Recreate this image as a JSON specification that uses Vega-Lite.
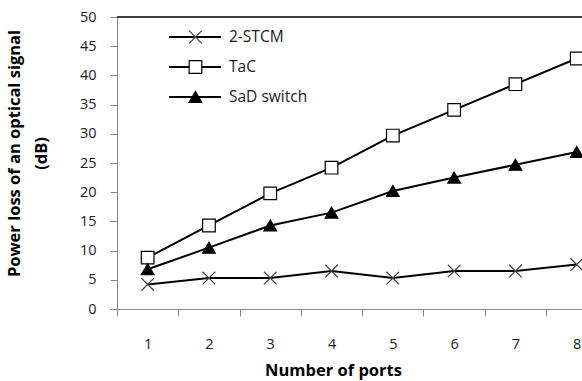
{
  "$schema": "https://vega.github.io/schema/vega-lite/v6.json",
  "width": 465,
  "height": 292,
  "autosize": {"type": "none"},
  "padding": {"left": 117, "top": 17, "right": 0, "bottom": 72},
  "background": "white",
  "config": {
    "view": {"stroke": null},
    "font": "Open Sans",
    "axis": {"labelFont": "Open Sans", "titleFont": "Open Sans", "labelColor": "#1a1a1a", "titleColor": "#000000", "grid": false, "domainColor": "#868686", "tickColor": "#868686", "labelFontSize": 14.5, "titleFontWeight": "bold"},
    "legend": {"labelFont": "Open Sans", "labelFontSize": 15.5, "labelColor": "#1a1a1a", "padding": 0}
  },
  "data": {"values": [
    {"series": "2-STCM", "ports": 1, "loss": 4.2},
    {"series": "2-STCM", "ports": 2, "loss": 5.3},
    {"series": "2-STCM", "ports": 3, "loss": 5.3},
    {"series": "2-STCM", "ports": 4, "loss": 6.5},
    {"series": "2-STCM", "ports": 5, "loss": 5.3},
    {"series": "2-STCM", "ports": 6, "loss": 6.5},
    {"series": "2-STCM", "ports": 7, "loss": 6.5},
    {"series": "2-STCM", "ports": 8, "loss": 7.6},
    {"series": "TaC", "ports": 1, "loss": 8.8},
    {"series": "TaC", "ports": 2, "loss": 14.3},
    {"series": "TaC", "ports": 3, "loss": 19.8},
    {"series": "TaC", "ports": 4, "loss": 24.2},
    {"series": "TaC", "ports": 5, "loss": 29.7},
    {"series": "TaC", "ports": 6, "loss": 34.1},
    {"series": "TaC", "ports": 7, "loss": 38.5},
    {"series": "TaC", "ports": 8, "loss": 42.9},
    {"series": "SaD switch", "ports": 1, "loss": 6.8},
    {"series": "SaD switch", "ports": 2, "loss": 10.5},
    {"series": "SaD switch", "ports": 3, "loss": 14.3},
    {"series": "SaD switch", "ports": 4, "loss": 16.5},
    {"series": "SaD switch", "ports": 5, "loss": 20.2},
    {"series": "SaD switch", "ports": 6, "loss": 22.5},
    {"series": "SaD switch", "ports": 7, "loss": 24.7},
    {"series": "SaD switch", "ports": 8, "loss": 26.9}
  ]},
  "encoding": {
    "x": {"field": "ports", "type": "quantitative",
      "scale": {"domain": [0.5, 8.086], "nice": false, "zero": false},
      "axis": {"title": "Number of ports", "titleFontSize": 16.5, "values": [0.5, 1, 1.5, 2, 2.5, 3, 3.5, 4, 4.5, 5, 5.5, 6, 6.5, 7, 7.5, 8],
        "labelExpr": "datum.value % 1 == 0 ? format(datum.value, 'd') : ''",
        "tickOpacity": {"condition": {"test": "datum.value % 1 == 0", "value": 0}, "value": 1},
        "tickSize": 7, "labelPadding": 21, "labelFlush": false, "labelOverlap": false,
        "titlePadding": 12, "titleX": 216}},
    "y": {"field": "loss", "type": "quantitative",
      "scale": {"domain": [0, 50], "nice": false},
      "axis": {"title": ["Power loss of an optical signal", "(dB)"], "titleFontSize": 16.5, "values": [0, 5, 10, 15, 20, 25, 30, 35, 40, 45, 50],
        "tickSize": 7, "labelPadding": 14, "labelFlush": false, "titleLineHeight": 27, "titlePadding": 30, "titleY": 136}}
  },
  "layer": [
    {"mark": {"type": "rule", "color": "#404040", "strokeWidth": 1.2},
     "encoding": {"y": {"datum": 50}, "x": null}},
    {"mark": {"type": "line", "strokeWidth": 2},
     "encoding": {
       "color": {"field": "series", "type": "nominal",
         "scale": {"domain": ["2-STCM", "TaC", "SaD switch"], "range": ["#000000", "#000000", "#000000"]},
         "legend": {"title": null, "orient": "none", "legendX": 51, "legendY": 13, "symbolType": "stroke", "symbolSize": 2704, "symbolStrokeWidth": 2, "clipHeight": 14, "rowPadding": 14, "labelOffset": 7}}
     }},
    {"mark": {"type": "point", "filled": true, "size": 160, "strokeWidth": 1.2, "opacity": 1},
     "encoding": {
       "shape": {"field": "series", "type": "nominal", "sort": null,
         "scale": {"range": ["M-1,-1L1,1M-1,1L1,-1", "square", "triangle-up"]},
         "legend": {"title": null, "orient": "none", "legendX": 70.7, "legendY": 13, "symbolSize": 160, "symbolStrokeWidth": 1.2, "clipHeight": 14, "rowPadding": 14, "labelExpr": "''"}},
       "fill": {"field": "series", "type": "nominal", "sort": null,
         "scale": {"range": ["#ffffff", "#ffffff", "#000000"]}},
       "stroke": {"field": "series", "type": "nominal", "sort": null,
         "scale": {"range": ["#404040", "#000000", "#000000"]}}
     }}
  ]
}
